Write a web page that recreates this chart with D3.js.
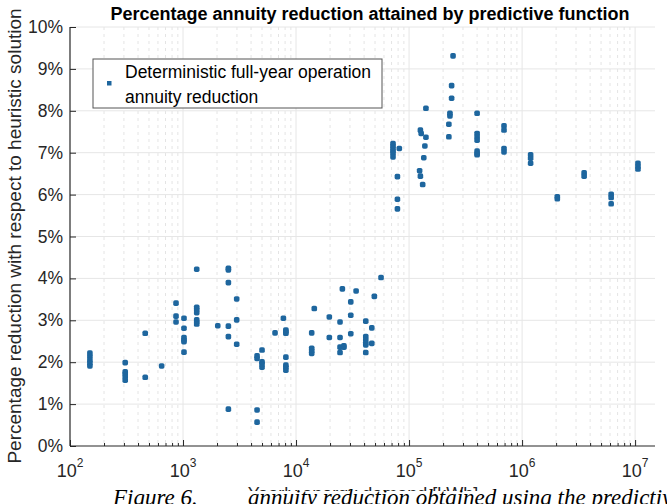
<!DOCTYPE html>
<html>
<head>
<meta charset="utf-8">
<script src="https://cdn.jsdelivr.net/npm/d3@7"></script>
<style>
body{margin:0;background:#fff;}
svg{display:block;font-family:"Liberation Sans",Arial,sans-serif;}
</style>
</head>
<body>
<div id="chart"></div>
<script>
// yearly energy demand [kWh] of each case, and the annuity reduction [%] it got
var demandKWh = [
    150,150,150,150,150,
    308,308,308,308,308,
    463,463,
    647,
    867,867,867,
    1020,1020,1020,1020,1020,1020,
    1322,1322,1322,1322,1322,1322,1322,
    2030,
    2520,2520,2520,2520,2520,2520,
    2985,2985,2985,
    4520,4520,4520,4520,
    5000,5000,5000,5000,
    6520,
    7730,
    8130,8130,8130,8130,8130,8130,8130,
    13760,13760,13760,13760,
    14500,
    19700,19700,
    24500,24500,24500,24500,
    26500,26500,
    25700,
    34000,
    30500,30500,30500,
    41400,41400,41400,41400,41400,41400,
    46800,46800,
    49300,
    56500,
    72100,72100,72100,72100,72100,72100,
    82000,
    78900,78900,78900,
    141000,126000,128000,141000,138000,135000,124000,126000,132000,
    245000,238000,238000,230000,230000,225000,225000,
    400000,400000,400000,400000,400000,400000,400000,
    692000,692000,692000,692000,
    1190000,1190000,1190000,
    2050000,2050000,
    3540000,3540000,
    6140000,6140000,6140000,
    10600000,10600000,10600000
];
var reductionPct = [
    2.22,2.14,2.05,1.98,1.91,
    1.99,1.77,1.72,1.65,1.57,
    2.69,1.64,
    1.91,
    3.41,3.10,2.96,
    3.05,2.81,2.59,2.53,2.49,2.24,
    4.22,3.31,3.25,3.18,3.01,2.96,2.91,
    2.87,
    4.24,4.20,3.90,2.86,2.61,0.88,
    3.51,3.01,2.43,
    2.15,2.09,0.86,0.57,
    2.29,2.01,1.96,1.88,
    2.70,
    3.05,
    2.77,2.73,2.69,2.12,1.93,1.88,1.81,
    2.70,2.33,2.27,2.21,
    3.28,
    3.08,2.59,
    2.96,2.59,2.36,2.23,
    2.39,2.36,
    3.75,
    3.70,
    3.44,3.12,2.68,
    2.98,2.61,2.53,2.45,2.41,2.23,
    2.82,2.45,
    3.57,
    4.02,
    7.22,7.16,7.10,7.04,6.99,6.90,
    7.10,
    6.43,5.89,5.66,
    8.06,7.54,7.46,7.37,7.16,6.88,6.57,6.44,6.24,
    9.31,8.60,8.30,7.94,7.88,7.68,7.38,
    7.94,7.46,7.38,7.30,7.04,6.98,6.95,
    7.64,7.54,7.10,7.02,
    6.95,6.87,6.75,
    5.95,5.90,
    6.52,6.44,
    6.01,5.93,5.78,
    6.75,6.67,6.61
];
var yTicks = [0,1,2,3,4,5,6,7,8,9,10];
var xTickExps = [2,3,4,5,6,7];
var legendLines = ["Deterministic full-year operation", "annuity reduction"];
var titleText = "Percentage annuity reduction attained by predictive function";
var xLabelText = "Yearly energy demand [kWh]";
var yLabelText = "Percentage reduction with respect to heuristic solution";

var W = 667, H = 504;
// plot box in pixels (window.top is taken, hence the p prefix)
var pLeft = 70, pRight = 655, pTop = 27, pBottom = 446;
var dotColor = "#1e669e", axisColor = "#262626";

var svg = d3.select("#chart").append("svg").attr("width", W).attr("height", H);

var x = d3.scaleLog().domain([100, 1.5e7]).range([pLeft, pRight]);
var y = d3.scaleLinear().domain([0, 10]).range([pBottom, pTop]);

//---------------------------------------------------------------------
// grid: solid at decades / whole percents, dashed at minor decades
var minors = [];
xTickExps.forEach(function(e){
    for (var k = 2; k <= 9; k++) {
        var v = k * Math.pow(10, e);
        if (v < 1.5e7) minors.push(v);
    }
});
var majors = xTickExps.map(function(e){ return Math.pow(10, e); });

svg.append("g").selectAll("line").data(minors).enter().append("line")
    .attr("x1", function(d){ return x(d); }).attr("x2", function(d){ return x(d); })
    .attr("y1", pTop).attr("y2", pBottom)
    .style("stroke", "#e4e4e4").style("stroke-width", 1).style("stroke-dasharray", "3,4");
svg.append("g").selectAll("line").data(majors.slice(1)).enter().append("line")
    .attr("x1", function(d){ return x(d); }).attr("x2", function(d){ return x(d); })
    .attr("y1", pTop).attr("y2", pBottom)
    .style("stroke", "#e6e6e6").style("stroke-width", 1);
svg.append("g").selectAll("line").data(yTicks.slice(1)).enter().append("line")
    .attr("x1", pLeft).attr("x2", pRight)
    .attr("y1", function(d){ return y(d); }).attr("y2", function(d){ return y(d); })
    .style("stroke", "#e6e6e6").style("stroke-width", 1);

//---------------------------------------------------------------------
// axes, ticks pointing inwards
svg.append("g").attr("transform", "translate(0," + pBottom + ")")
    .call(d3.axisBottom(x).tickValues(minors).tickSize(-3).tickFormat(""));
svg.append("g").attr("transform", "translate(0," + pBottom + ")")
    .call(d3.axisBottom(x).tickValues(majors).tickSize(-6).tickFormat(""));
svg.append("g").attr("transform", "translate(" + pLeft + ",0)")
    .call(d3.axisLeft(y).tickValues(yTicks).tickSize(-6).tickFormat(""));
svg.selectAll(".domain").remove();
svg.selectAll(".tick line").style("stroke", axisColor);
svg.append("line").attr("x1", pLeft).attr("x2", pRight).attr("y1", pBottom).attr("y2", pBottom)
    .style("stroke", axisColor).style("stroke-width", 1.2);
svg.append("line").attr("x1", pLeft).attr("x2", pLeft).attr("y1", pTop).attr("y2", pBottom)
    .style("stroke", axisColor).style("stroke-width", 1.2);

// tick labels
var xl = svg.append("g").selectAll("text").data(xTickExps).enter().append("text")
    .attr("x", function(d){ return x(Math.pow(10, d)); }).attr("y", pBottom + 31)
    .attr("text-anchor", "middle").style("font-size", "18px").style("fill", axisColor);
xl.append("tspan").text("10");
xl.append("tspan").attr("dy", -10).style("font-size", "12px").text(function(d){ return d; });
svg.append("g").selectAll("text").data(yTicks).enter().append("text")
    .attr("x", pLeft - 7).attr("y", function(d){ return y(d) + 6; })
    .attr("text-anchor", "end").style("font-size", "17.5px").style("fill", axisColor)
    .text(function(d){ return d + "%"; });

//---------------------------------------------------------------------
// points
var pts = demandKWh.map(function(d, i){ return [d, reductionPct[i]]; });
svg.append("g").selectAll("rect").data(pts).enter().append("rect")
    .attr("x", function(d){ return x(d[0]) - 2.8; })
    .attr("y", function(d){ return y(d[1]) - 2.8; })
    .attr("width", 5.6).attr("height", 5.6).attr("rx", 1.7)
    .style("fill", dotColor);

//---------------------------------------------------------------------
// legend
svg.append("rect").attr("x", 93).attr("y", 59).attr("width", 289).attr("height", 49)
    .style("fill", "#fff").style("stroke", "#555").style("stroke-width", 1);
svg.append("rect").attr("x", 107).attr("y", 81).attr("width", 4.5).attr("height", 4.5)
    .style("fill", dotColor);
svg.append("g").selectAll("text").data(legendLines).enter().append("text")
    .attr("x", 125).attr("y", function(d, i){ return 78 + i * 25; })
    .style("font-size", "17.5px").style("fill", "#000")
    .text(function(d){ return d; });

//---------------------------------------------------------------------
// titles
svg.append("text").attr("x", 370).attr("y", 20).attr("text-anchor", "middle")
    .style("font-size", "18px").style("font-weight", "bold").style("fill", "#000")
    .text(titleText);
svg.append("text").attr("transform", "translate(21,236) rotate(-90)").attr("text-anchor", "middle")
    .style("font-size", "19px").style("fill", axisColor)
    .text(yLabelText);
svg.append("text").attr("x", 363).attr("y", 500).attr("text-anchor", "middle")
    .style("font-size", "18px").style("fill", axisColor)
    .text(xLabelText);

// the figure caption of the page, cut at the bottom
svg.append("rect").attr("x", 0).attr("y", 491).attr("width", W).attr("height", 13).style("fill", "#fff");
var cap = svg.append("text").attr("y", 505)
    .style("font-family", "'Liberation Serif','Times New Roman',serif")
    .style("font-style", "italic").style("font-size", "23px").style("fill", "#000");
cap.append("tspan").attr("x", 113).text("Figure 6.");
cap.append("tspan").attr("x", 248).text("annuity reduction obtained using the predictive function");
</script>
</body>
</html>
